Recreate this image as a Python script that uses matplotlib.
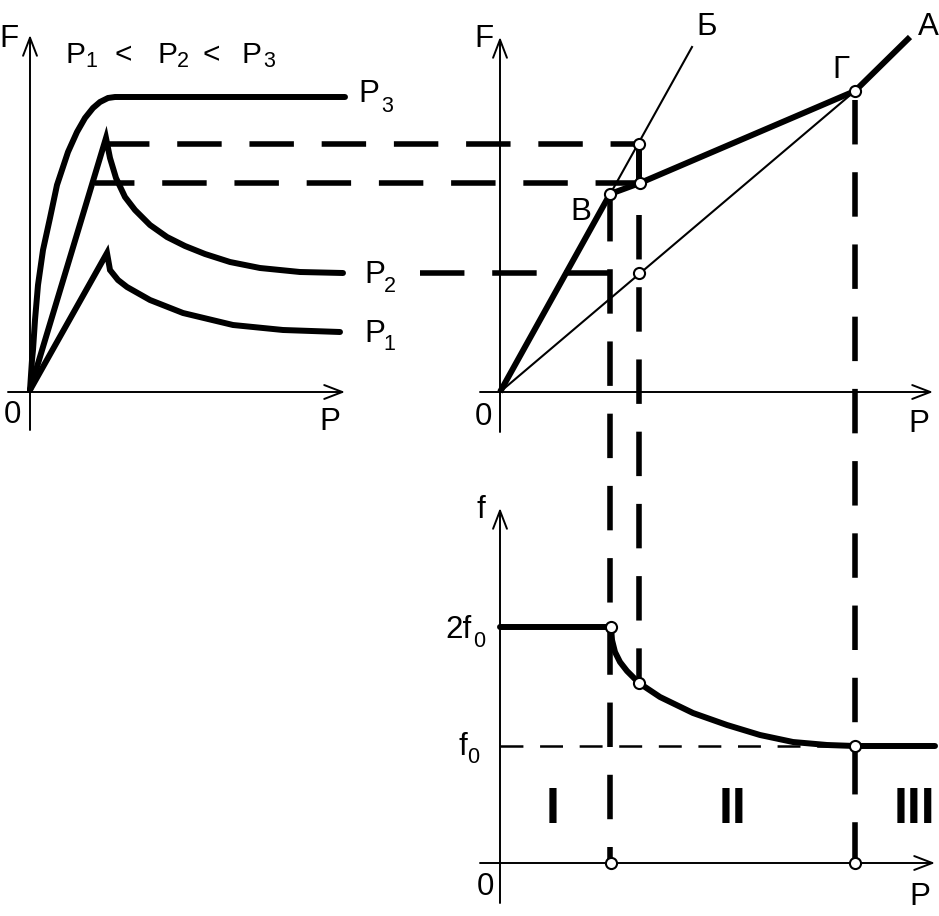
import matplotlib
matplotlib.use("Agg")
import matplotlib.pyplot as plt

plt.rcParams['font.family'] = ['Liberation Sans', 'DejaVu Sans']
plt.rcParams['lines.scale_dashes'] = False

# ---------------- data (schematic, canvas units) -------------
# left panel: F(P) curves for P1 < P2 < P3
p3_x = [30, 32, 33, 35, 38, 43, 50, 57, 68, 77, 85, 93, 100, 108, 115, 345]
p3_y = [390, 360, 350, 320, 285, 250, 218, 185, 152, 132, 118, 108, 102, 98, 97, 97]
p2_x = [30, 106, 110, 116, 125, 135, 150, 167, 185, 205, 230, 260, 300, 343]
p2_y = [390, 138, 158, 178, 197, 210, 225, 237, 246, 254, 262, 268, 272, 273]
p1_x = [30, 107, 110, 118, 127, 150, 183, 233, 283, 340]
p1_y = [390, 253, 270, 280, 287, 300, 313, 325, 330, 332]

# middle panel
line_b_x = [500, 692]          # 0 -> Б
line_b_y = [392, 47]
line_a_x = [500, 855]          # 0 -> Г (thin)
line_a_y = [392, 91]
thick_x = [500, 610, 640, 855, 910]   # 0 -> В -> ... -> Г -> А
thick_y = [392, 194, 183, 91, 37]

# bottom panel f(P)
f_x = [500, 611, 612, 615, 620, 627, 639, 660, 693, 727, 760, 793, 827, 855, 935]
f_y = [627, 627, 640, 652, 662, 671, 683, 697, 713, 725, 735, 742, 745, 746, 746]

# marked points
pts_x = [639, 640, 610, 639, 855, 611, 639, 855, 611, 855]
pts_y = [144, 183, 194, 273, 91, 627, 683, 746, 863, 863]

fig = plt.figure(figsize=(9.39, 9.16), dpi=100)
ax = fig.add_axes([0, 0, 1, 1])
ax.set_xlim(0, 939)
ax.set_ylim(916, 0)
ax.axis('off')

K = 'black'
THICK = 4.3
THIN = 1.5
AX = 1.4
DASH = (32, 20)          # points
px = 0.72                # px -> pt

def arrow(x0, y0, x1, y1):
    ax.annotate('', xy=(x1, y1), xytext=(x0, y0),
                arrowprops=dict(arrowstyle='->,head_length=1.3,head_width=0.5',
                                lw=AX, color=K, mutation_scale=10,
                                shrinkA=0, shrinkB=0))

# axes
arrow(30, 430, 30, 35)
arrow(8, 392, 345, 392)
arrow(500, 432, 500, 37)
arrow(480, 392, 933, 392)
arrow(500, 903, 500, 508)
arrow(480, 863, 935, 863)

# left curves
for xs, ys in [(p3_x, p3_y), (p2_x, p2_y), (p1_x, p1_y)]:
    ax.plot(xs, ys, color=K, lw=THICK, solid_capstyle='round', solid_joinstyle='miter')

# thin lines
ax.plot(line_b_x, line_b_y, color=K, lw=THIN)
ax.plot(line_a_x, line_a_y, color=K, lw=THIN)
# thick broken line
ax.plot(thick_x, thick_y, color=K, lw=THICK, solid_capstyle='butt', solid_joinstyle='round')
ax.plot([639, 639], [144, 183], color=K, lw=THICK, solid_capstyle='butt')

# f curve
ax.plot(f_x, f_y, color=K, lw=THICK, solid_capstyle='round', solid_joinstyle='round')

# thick dashed guide lines
def dashed(xs, ys, offset=0):
    ax.plot(xs, ys, color=K, lw=4.0, dash_capstyle='butt',
            linestyle=(offset * px, DASH))

dashed([105, 639], [144, 144])
dashed([95, 640], [183, 183], offset=5)
dashed([420, 610], [273, 273])
dashed([610, 610], [197, 863])
dashed([639, 639], [215, 683])
dashed([855, 855], [100, 863])

# thin dashed f0 line
ax.plot([500, 855], [746, 746], color=K, lw=1.8, dash_capstyle='butt',
        linestyle=(0, (16.5, 12)))

# points
ax.plot(pts_x, pts_y, 'o', ms=8, mfc='white', mec=K, mew=1.5, zorder=6)

# texts (x = ink centre, y = baseline)
FS = 22.5
SUB = 15.5
def t(x, y, s, size=FS, ha='center', **kw):
    ax.text(x, y, s, fontsize=size, ha=ha, va='baseline', color=K, **kw)

t(9, 47, 'F')
t(12.5, 423, '0')
t(330, 430, 'P')

t(75.5, 63, 'P', size=21.5); t(91, 67, '1', size=SUB)
t(123.5, 63, '<', size=21.5)
t(167.5, 63, 'P', size=21.5); t(182.5, 67, '2', size=SUB)
t(211.5, 63, '<', size=21.5)
t(251.5, 63, 'P', size=21.5); t(269, 67, '3', size=SUB)

t(368.5, 102, 'P'); t(387, 112, '3', size=SUB)
t(374.5, 283, 'P'); t(390, 292, '2', size=SUB)
t(374.5, 342, 'P'); t(389, 350, '1', size=SUB)

t(483.5, 47, 'F')
t(483, 425, '0')
t(919, 432, 'P')
t(706.5, 35, 'Б')
t(939, 35, 'А', ha='right')
t(840.5, 78, 'Г')
t(580.5, 220, 'В')

t(481, 518, 'f')
t(458.5, 638, '2f'); t(479.5, 647, '0', size=SUB)
t(462.5, 755, 'f'); t(473.5, 763, '0', size=SUB)
t(485, 895, '0')
t(920, 905, 'P')

t(552.5, 823, 'I', size=36, fontweight='bold')
t(733, 823, 'II', size=36, fontweight='bold')
t(914, 823, 'III', size=36, fontweight='bold')

fig.savefig('out.png', dpi=100)
